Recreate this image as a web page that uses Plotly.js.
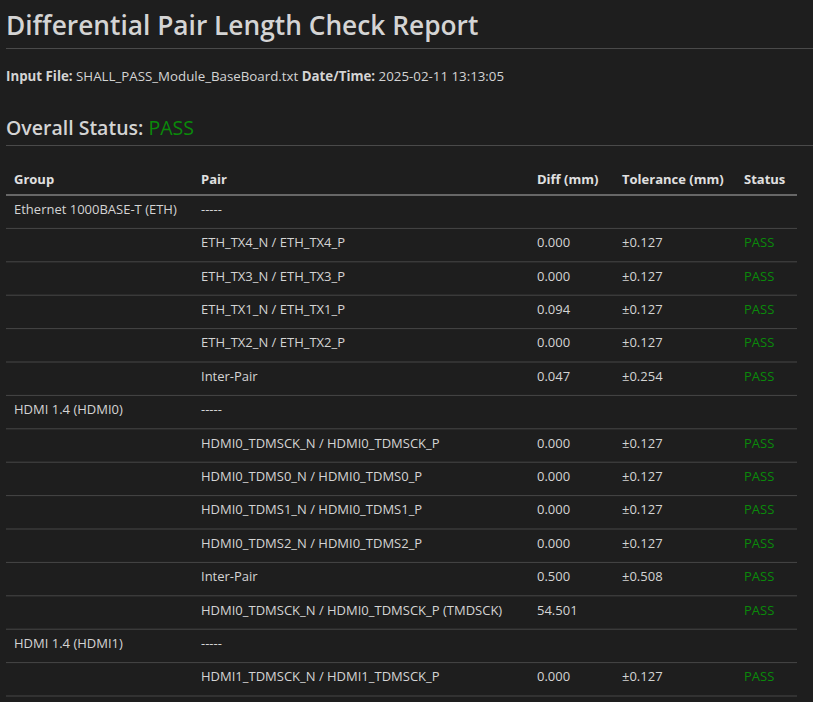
<!DOCTYPE html>
<html>
<head>
<meta charset="utf-8">
<script src="https://cdn.plot.ly/plotly-3.0.1.min.js"></script>
<style>
  body { margin: 0; background: #1e1e1e; color: #d4d4d4; font-family: "Open Sans", sans-serif; width: 813px; height: 702px; overflow: hidden; position: relative; }
  h1 { position: absolute; left: 6px; top: 7px; margin: 0; font-size: 26.3px; font-weight: 600; color: #d4d4d4; }
  .hr { position: absolute; left: 6px; width: 807px; height: 1px; background: #4a4a4a; }
  .info { position: absolute; left: 6px; top: 67px; font-size: 13.3px; }
  .info b { font-weight: 700; }
  h2 { position: absolute; left: 6px; top: 114px; margin: 0; font-size: 19.5px; font-weight: 600; color: #d4d4d4; }
  h2 span { color: #0a8a0a; font-weight: 400; }
  #tbl { position: absolute; left: 6px; top: 162px; width: 791px; height: 540px; }
</style>
</head>
<body>
<h1>Differential Pair Length Check Report</h1>
<div class="hr" style="top:48px"></div>
<div class="info"><b>Input File:</b> SHALL_PASS_Module_BaseBoard.txt <b>Date/Time:</b> 2025-02-11 13:13:05</div>
<h2>Overall Status: <span>PASS</span></h2>
<div class="hr" style="top:145px"></div>
<div id="tbl"></div>
<script>
// report data
var headers    = ['Group', 'Pair', 'Diff (mm)', 'Tolerance (mm)', 'Status'];
var groups     = ['Ethernet 1000BASE-T (ETH)', '', '', '', '', '', 'HDMI 1.4 (HDMI0)', '', '', '', '', '', '', 'HDMI 1.4 (HDMI1)', ''];
var pairs      = ['-----', 'ETH_TX4_N / ETH_TX4_P', 'ETH_TX3_N / ETH_TX3_P', 'ETH_TX1_N / ETH_TX1_P', 'ETH_TX2_N / ETH_TX2_P', 'Inter-Pair',
                  '-----', 'HDMI0_TDMSCK_N / HDMI0_TDMSCK_P', 'HDMI0_TDMS0_N / HDMI0_TDMS0_P', 'HDMI0_TDMS1_N / HDMI0_TDMS1_P', 'HDMI0_TDMS2_N / HDMI0_TDMS2_P', 'Inter-Pair', 'HDMI0_TDMSCK_N / HDMI0_TDMSCK_P (TMDSCK)',
                  '-----', 'HDMI1_TDMSCK_N / HDMI1_TDMSCK_P'];
var diffs      = ['', '0.000', '0.000', '0.094', '0.000', '0.047', '', '0.000', '0.000', '0.000', '0.000', '0.500', '54.501', '', '0.000'];
var tolerances = ['', '±0.127', '±0.127', '±0.127', '±0.127', '±0.254', '', '±0.127', '±0.127', '±0.127', '±0.127', '±0.508', '', '', '±0.127'];
var statuses   = ['', 'PASS', 'PASS', 'PASS', 'PASS', 'PASS', '', 'PASS', 'PASS', 'PASS', 'PASS', 'PASS', 'PASS', '', 'PASS'];

(function () {
  var BG = '#1e1e1e', TXT = '#d4d4d4', GREEN = '#0a8a0a';
  var H = 540, headH = 33, rowH = 33.4;
  var txtCol = pairs.map(function () { return TXT; });
  var stCol  = statuses.map(function () { return GREEN; });

  var shapes = [{
    type: 'line', xref: 'paper', yref: 'paper', x0: 0, x1: 1,
    y0: 1 - headH / H, y1: 1 - headH / H, line: { color: '#b0b0b0', width: 1 }
  }];
  pairs.forEach(function (p, i) {
    var y = 1 - (headH + (i + 1) * rowH) / H;
    if (y > 0) shapes.push({ type: 'line', xref: 'paper', yref: 'paper', x0: 0, x1: 1, y0: y, y1: y, line: { color: '#474747', width: 1 } });
  });

  Plotly.newPlot('tbl', [{
    type: 'table',
    columnwidth: [187, 336, 85, 122, 61],
    header: {
      values: headers.map(function (h) { return '<b>' + h + '</b>'; }),
      align: 'left', height: headH,
      fill: { color: BG }, line: { color: BG, width: 0 },
      font: { family: 'Open Sans, sans-serif', size: 13, color: '#e0e0e0' }
    },
    cells: {
      values: [groups, pairs, diffs, tolerances, statuses],
      align: 'left', height: rowH,
      fill: { color: BG }, line: { color: BG, width: 0 },
      font: { family: 'Open Sans, sans-serif', size: 13, color: [txtCol, txtCol, txtCol, txtCol, stCol] }
    }
  }], {
    width: 791, height: H,
    margin: { l: 0, r: 0, t: 0, b: 0 },
    paper_bgcolor: BG, plot_bgcolor: BG,
    shapes: shapes
  }, { displayModeBar: false, staticPlot: true });
})();
</script>
</body>
</html>
